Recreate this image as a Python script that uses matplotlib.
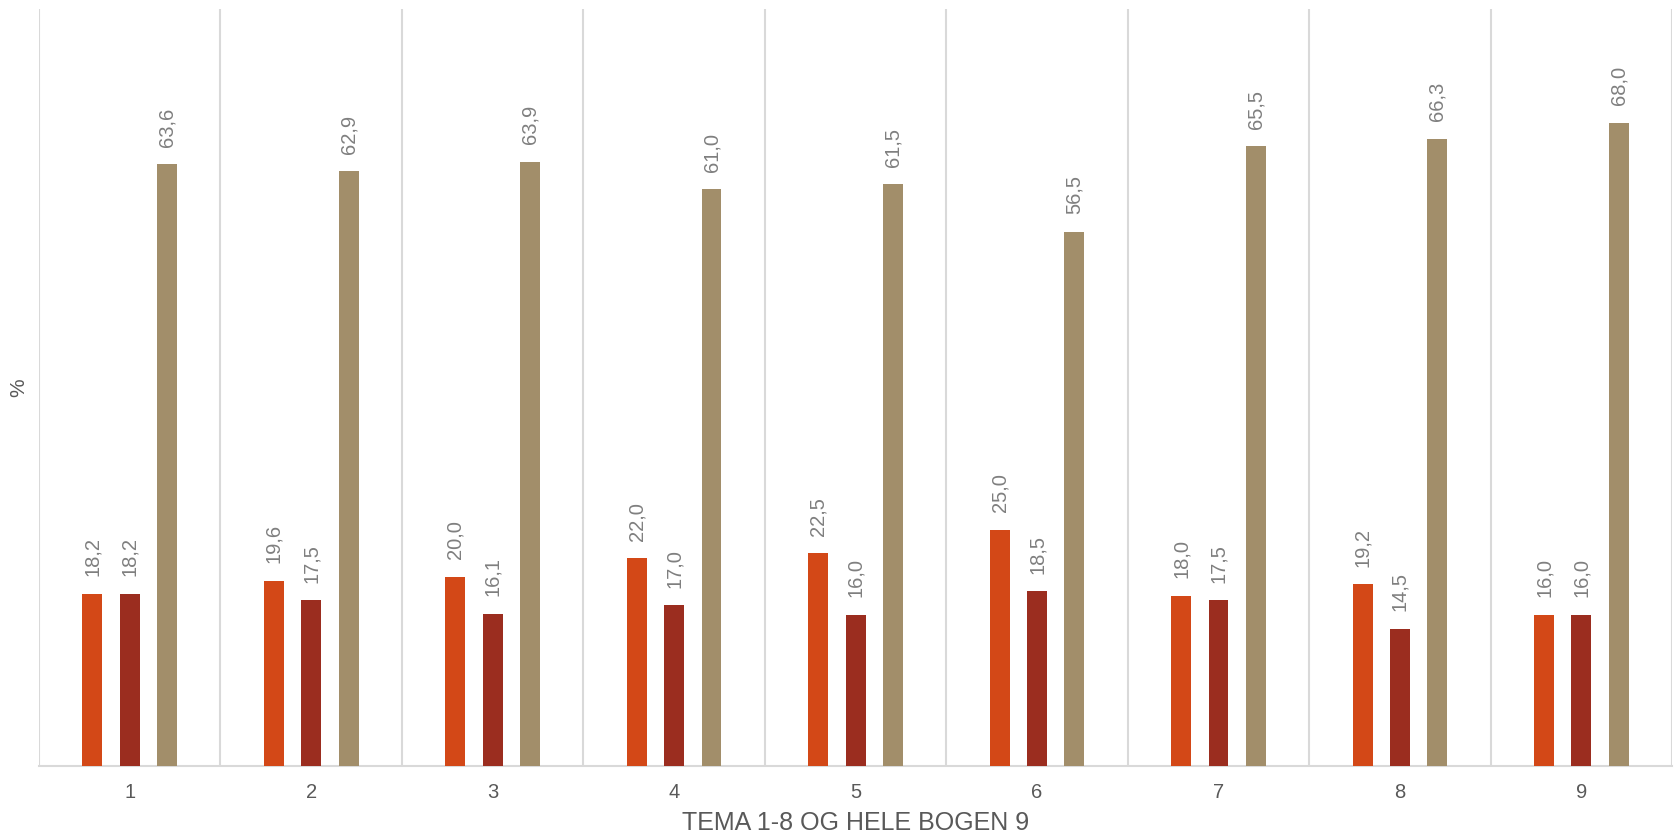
import matplotlib.pyplot as plt
import numpy as np

plt.rcParams['font.family'] = ['Liberation Sans', 'DejaVu Sans']

# Data
categories = ['1', '2', '3', '4', '5', '6', '7', '8', '9']
series_a = [18.2, 19.6, 20.0, 22.0, 22.5, 25.0, 18.0, 19.2, 16.0]
series_b = [18.2, 17.5, 16.1, 17.0, 16.0, 18.5, 17.5, 14.5, 16.0]
series_c = [63.6, 62.9, 63.9, 61.0, 61.5, 56.5, 65.5, 66.3, 68.0]

colors = ['#D34817', '#9B2D1F', '#A28E6A']
label_color = '#7f7f7f'
text_color = '#595959'
grid_color = '#d9d9d9'

fig = plt.figure(figsize=(16.75, 8.39), dpi=100)
ax = fig.add_axes([0.0233, 0.087, 0.975, 0.902])

x = np.arange(len(categories))
width = 0.11
offsets = [-0.206, 0.0, 0.206]

for vals, off, col in zip([series_a, series_b, series_c], offsets, colors):
    bars = ax.bar(x + off, vals, width, color=col, zorder=3)
    for b, v in zip(bars, vals):
        ax.annotate(f'{v:.1f}'.replace('.', ','),
                    (b.get_x() + b.get_width() / 2, v),
                    xytext=(0, 12.5), textcoords='offset points',
                    rotation=90, ha='center', va='bottom',
                    fontsize=14.5, color=label_color)

ax.set_xlim(-0.5, len(categories) - 0.5)
ax.set_ylim(0, 80)
ax.set_xticks(x)
ax.set_xticklabels(categories, fontsize=14.5, color=text_color)
ax.set_xticks(np.arange(-0.5, len(categories), 1.0), minor=True)
ax.tick_params(axis='x', which='major', length=0, pad=12)
ax.tick_params(axis='x', which='minor', length=0)
ax.set_yticks([])
ax.grid(True, axis='x', which='minor', color=grid_color, linewidth=1.5, zorder=0)

for s in ['top', 'right', 'left']:
    ax.spines[s].set_visible(False)
ax.spines['bottom'].set_color(grid_color)
ax.spines['bottom'].set_linewidth(1.5)

ax.set_xlabel('TEMA 1-8 OG HELE BOGEN 9', fontsize=18, color=text_color, labelpad=7)
ax.set_ylabel('%', fontsize=15, color=text_color, labelpad=8)

fig.savefig('out.png', dpi=100)
